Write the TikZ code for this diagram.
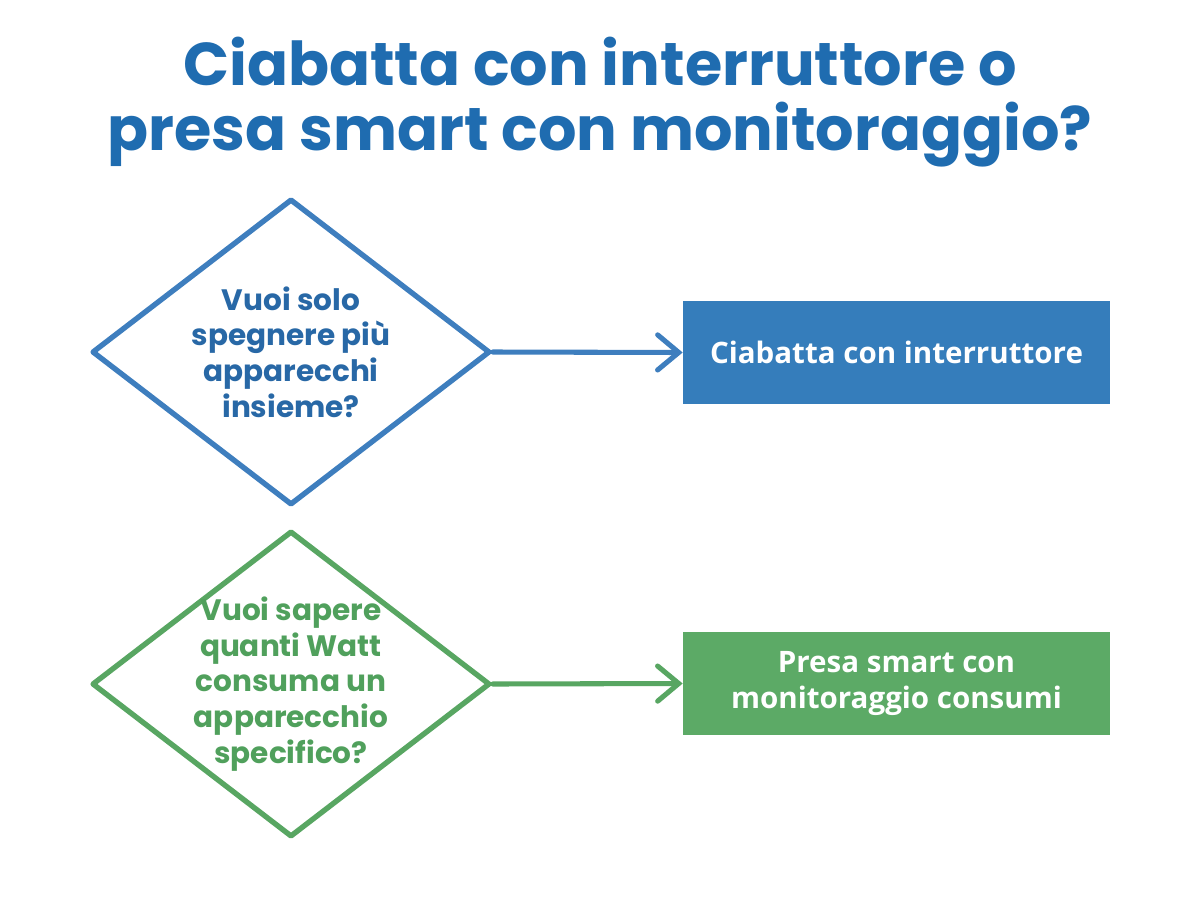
\documentclass[tikz,border=0pt]{standalone}
\usepackage{fontspec}
\setmainfont{Poppins}
\newfontfamily\boxfont{Open Sans}
\usepackage{tikz}
\usetikzlibrary{shapes.geometric,arrows.meta,positioning}
\definecolor{bluTitolo}{RGB}{31,108,176}
\definecolor{bluLinea}{RGB}{62,126,190}
\definecolor{bluTesto}{RGB}{40,104,166}
\definecolor{bluBox}{RGB}{53,125,187}
\definecolor{verdeLinea}{RGB}{88,166,98}
\definecolor{verdeTesto}{RGB}{80,160,92}
\definecolor{verdeBox}{RGB}{92,170,102}

\begin{document}
\begin{tikzpicture}[
				x=0.025cm, y=-0.025cm,
				domanda/.style={diamond, draw, line width=3.8pt, line join=round,
					minimum width=9.95cm, minimum height=7.65cm, inner sep=0pt},
				testo/.style={font=\bfseries\fontsize{21}{25.3}\selectfont, align=center},
				scelta/.style={rectangle, minimum width=10.675cm, minimum height=2.575cm,
					align=center, font=\boxfont\bfseries\fontsize{21}{25}\selectfont, text=white},
				freccia/.style={-{Straight Barb[length=15pt,width=25pt,line cap=round]},
					line width=3.6pt, line cap=round}
				]
				\useasboundingbox (0,0) rectangle (1200,900);
				
				\node[font=\bfseries\fontsize{43}{46}\selectfont, text=bluTitolo, align=center]
				(titolo) at (600,102) {Ciabatta con interruttore o\\presa smart con monitoraggio?};
				
				\node[domanda, draw=bluLinea,
				label={[testo, text=bluTesto]center:Vuoi solo\\spegnere più\\apparecchi\\insieme?}]
				(spegnere) at (291,352) {};
				\node[domanda, draw=verdeLinea,
				label={[testo, text=verdeTesto]center:Vuoi sapere\\quanti Watt\\consuma un\\apparecchio\\specifico?}]
				(watt) at (291,684) {};
				
				\node[scelta, fill=bluBox]   (ciabatta) at (896.5,352.5) {Ciabatta con interruttore};
				\node[scelta, fill=verdeBox] (presa)    at (896.5,683.5) {Presa smart con\\monitoraggio consumi};
				
				\draw[freccia, color=bluLinea]   (spegnere.east) -- (ciabatta.west);
				\draw[freccia, color=verdeLinea] (watt.east) -- (presa.west);
		\end{tikzpicture}
\end{document}
